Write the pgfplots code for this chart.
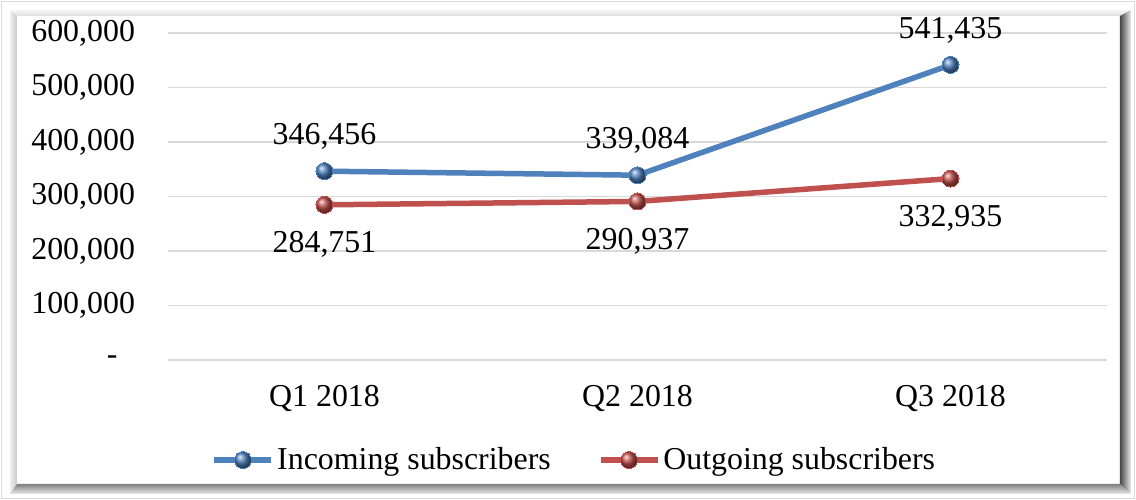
\documentclass[border=0pt]{standalone}
\usepackage{pgfplots}
\pgfplotsset{compat=1.18}
\usepackage{fontspec}
\setmainfont{Liberation Serif}
\definecolor{incblue}{RGB}{79,129,189}
\definecolor{outred}{RGB}{192,80,77}
\definecolor{gridgray}{RGB}{217,217,217}
\begin{document}
\begin{tikzpicture}
\path[use as bounding box] (-84bp,-70bp) rectangle (484bp,180bp);
\begin{scope}[x=0.5bp,y=-0.5bp,shift={(-84bp,180bp)}]
  \fill[white] (0,0) rectangle (1136,500);
  \draw[gray!30, line width=0.6bp] (1.5,1.5) rectangle (1134.5,498.5);
  \shade[left color=gray!12, right color=gray!45] (10,10) -- (17,16) -- (17,484) -- (10,494) -- cycle;
  \shade[top color=gray!8, bottom color=gray!25] (10,10) -- (1131,10) -- (1120,16) -- (17,16) -- cycle;
  \shade[left color=black!72, right color=black!8] (1120,16) -- (1131,10) -- (1131,494) -- (1120,484) -- cycle;
  \shade[top color=black!50, bottom color=black!8] (17,484) -- (1120,484) -- (1131,494) -- (10,494) -- cycle;
\end{scope}
\begin{axis}[
  at={(0,0)}, anchor=south west, scale only axis,
  width=469.5bp, height=163.5bp,
  xmin=-0.5, xmax=2.5, ymin=0, ymax=600000,
  scaled y ticks=false,
  xtick={0,1,2}, xticklabels={Q1 2018, Q2 2018, Q3 2018},
  ytick={0,100000,200000,300000,400000,500000,600000},
  yticklabels={{\makebox[14bp][l]{-}},{100,000},{200,000},{300,000},{400,000},{500,000},{600,000}},
  axis line style={draw=none}, major tick length=0,
  ymajorgrids, grid style={gridgray, line width=0.75bp},
  tick label style={font=\fontsize{16}{19}\selectfont},
  yticklabel style={xshift=-13bp},
  xticklabel style={yshift=-9bp},
  clip=false,
  legend columns=2,
  legend style={at={(0.4334,-0.3058)}, anchor=center, draw=none, fill=none,
    font=\fontsize{16}{19}\selectfont,
    /tikz/every even column/.append style={column sep=22bp},
    nodes={inner sep=1.5bp}},
  legend image code/.code={\draw[#1,mark repeat=2,mark phase=2] plot coordinates {(0bp,0bp)(14.25bp,0bp)(28.5bp,0bp)};},
]
\addplot[incblue, line width=2.75bp, mark=ball, mark size=4.25bp, mark options={ball color=incblue, draw=none, line width=0pt},
  point meta=explicit symbolic, nodes near coords,
  every node near coord/.append style={anchor=center, yshift=17.5bp, text=black, font=\fontsize{16}{19}\selectfont}]
  coordinates {(0,346456) [346,456] (1,339084) [339,084] (2,541435) [541,435]};
\addlegendentry{Incoming subscribers}
\addplot[outred, line width=2.75bp, mark=ball, mark size=4.25bp, mark options={ball color=outred, draw=none, line width=0pt},
  point meta=explicit symbolic, nodes near coords,
  every node near coord/.append style={anchor=center, yshift=-20bp, text=black, font=\fontsize{16}{19}\selectfont}]
  coordinates {(0,284751) [284,751] (1,290937) [290,937] (2,332935) [332,935]};
\addlegendentry{Outgoing subscribers}
\end{axis}
\end{tikzpicture}
\end{document}
